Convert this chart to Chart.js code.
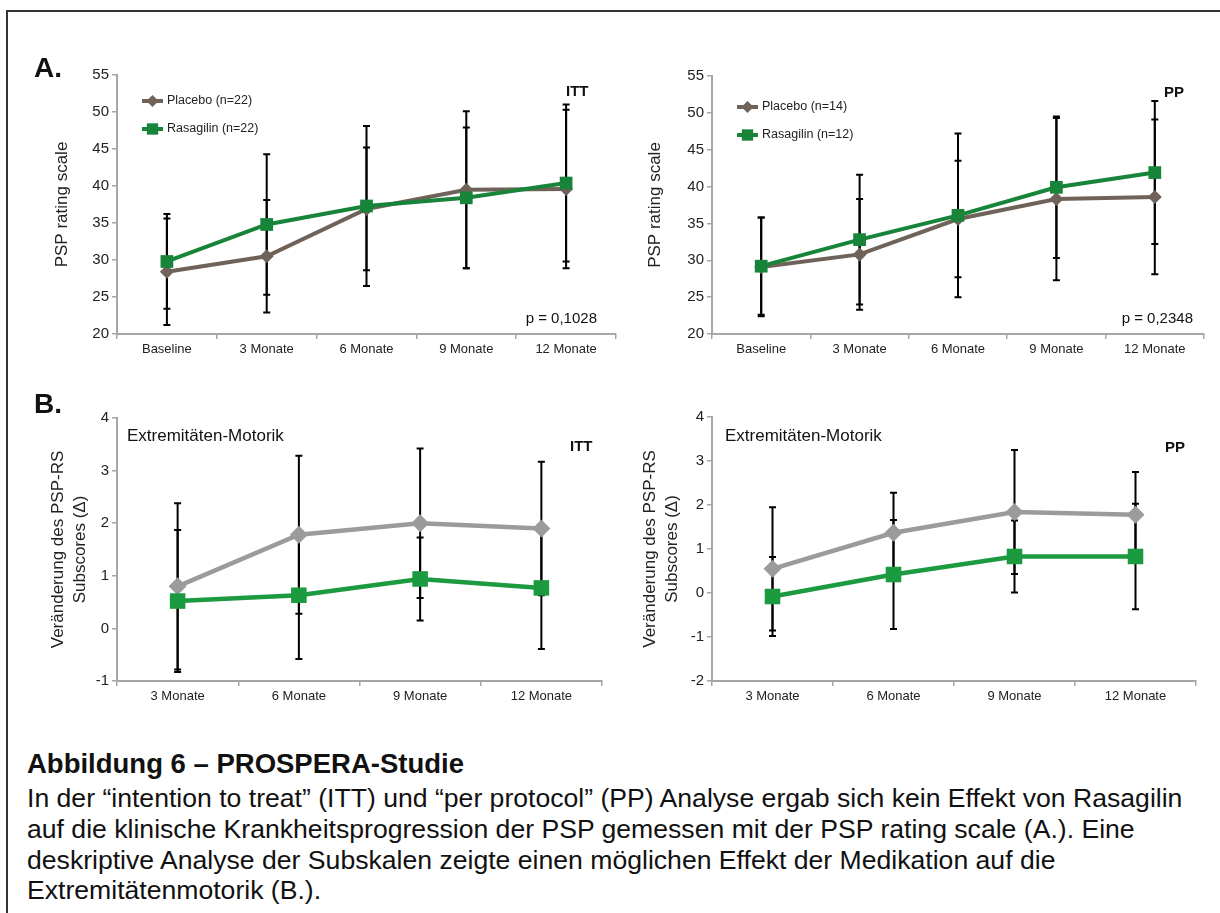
<!DOCTYPE html>
<html>
<head>
<meta charset="utf-8">
<script src="https://cdn.jsdelivr.net/npm/chart.js@4.4.1/dist/chart.umd.min.js"></script>
<style>
    body { margin: 0; background: #fff; font-family: 'Liberation Sans', Arial, sans-serif; color: #111; }
    #page { position: relative; width: 1220px; height: 913px; overflow: hidden; }
    #frame { position: absolute; left: 6px; top: 10px; width: 1300px; height: 1000px; border-left: 2px solid #333; border-top: 2px solid #333; }
    .abs { position: absolute; white-space: nowrap; }
    .panel { position: absolute; font-size: 28px; line-height: 28px; font-weight: bold; }
    .tag { position: absolute; font-size: 15px; font-weight: bold; }
    .note { position: absolute; font-size: 15px; }
    .sub { position: absolute; font-size: 17px; }
    .cap { position: absolute; left: 27px; white-space: nowrap; font-size: 26.6px; line-height: 26.6px; }
    .cap.title { font-size: 27.5px; line-height: 27.5px; font-weight: bold; }
</style>
</head>
<body>
<div id="page">
    <div id="frame"></div>

    <div class="abs" style="left:40px;top:60px"><canvas id="chartIttTotal" width="590" height="310"></canvas></div>
    <div class="abs" style="left:635px;top:60px"><canvas id="chartPpTotal" width="590" height="310"></canvas></div>
    <div class="abs" style="left:40px;top:400px"><canvas id="chartIttSub" width="580" height="317"></canvas></div>
    <div class="abs" style="left:635px;top:400px"><canvas id="chartPpSub" width="580" height="317"></canvas></div>

    <div class="panel" style="left:34px;top:54px">A.</div>
    <div class="panel" style="left:34px;top:390px">B.</div>

    <div class="tag" style="left:566px;top:82px">ITT</div>
    <div class="tag" style="left:1164px;top:83px">PP</div>
    <div class="tag" style="left:570px;top:437px">ITT</div>
    <div class="tag" style="left:1165px;top:438px">PP</div>

    <div class="note" style="right:623px;top:309px">p = 0,1028</div>
    <div class="note" style="right:27px;top:309px">p = 0,2348</div>
    <div class="sub" style="left:127px;top:426px">Extremitäten-Motorik</div>
    <div class="sub" style="left:725px;top:426px">Extremitäten-Motorik</div>

    <div class="cap title" style="top:750px">Abbildung 6 – PROSPERA-Studie</div>
    <div class="cap" style="top:785px">In der “intention to treat” (ITT) und “per protocol” (PP) Analyse ergab sich kein Effekt von Rasagilin</div>
    <div class="cap" style="top:816px">auf die klinische Krankheitsprogression der PSP gemessen mit der PSP rating scale (A.). Eine</div>
    <div class="cap" style="top:847px">deskriptive Analyse der Subskalen zeigte einen möglichen Effekt der Medikation auf die</div>
    <div class="cap" style="top:877px">Extremitätenmotorik (B.).</div>
</div>

<script>
// --- data ---
const totalLabels = ['Baseline', '3 Monate', '6 Monate', '9 Monate', '12 Monate'];
const subLabels = ['3 Monate', '6 Monate', '9 Monate', '12 Monate'];

// A. PSP rating scale, ITT
const ittPlacebo = [28.4, 30.5, 36.9, 39.5, 39.6];
const ittPlaceboSd = [7.2, 7.6, 8.3, 10.6, 10.7];
const ittRasagilin = [29.8, 34.8, 37.3, 38.4, 40.4];
const ittRasagilinSd = [6.4, 9.5, 10.8, 9.5, 10.6];

// A. PSP rating scale, PP
const ppPlacebo = [29.1, 30.8, 35.6, 38.3, 38.6];
const ppPlaceboSd = [6.7, 7.5, 7.9, 11.0, 10.5];
const ppRasagilin = [29.2, 32.8, 36.1, 39.9, 41.9];
const ppRasagilinSd = [6.6, 8.8, 11.1, 9.6, 9.7];

// B. Extremitaeten-Motorik, ITT
const ittSubPlacebo = [0.8, 1.78, 2.0, 1.9];
const ittSubPlaceboSd = [1.58, 1.5, 1.42, 1.27];
const ittSubRasagilin = [0.52, 0.63, 0.94, 0.77];
const ittSubRasagilinSd = [1.35, 1.21, 0.79, 1.16];

// B. Extremitaeten-Motorik, PP
const ppSubPlacebo = [0.55, 1.37, 1.84, 1.78];
const ppSubPlaceboSd = [1.4, 0.91, 1.41, 0.97];
const ppSubRasagilin = [-0.08, 0.42, 0.83, 0.83];
const ppSubRasagilinSd = [0.9, 1.24, 0.82, 1.2];

const FONT = "'Liberation Sans', Arial, sans-serif";
const AXIS_GREY = '#a6a6a6';

// black error bars, drawn under the lines and markers
const errorBars = {
    id: 'errorBars',
    beforeDatasetsDraw(chart, args, opts) {
        const { ctx, scales: { x, y } } = chart;
        ctx.save();
        ctx.strokeStyle = '#000';
        ctx.lineWidth = 2;
        chart.data.datasets.forEach((ds, i) => {
            const sd = opts.sd[i] || [];
            ds.data.forEach((v, j) => {
                const px = x.getPixelForValue(j);
                const hi = y.getPixelForValue(v + sd[j]);
                const lo = y.getPixelForValue(v - sd[j]);
                ctx.beginPath();
                ctx.moveTo(px, hi); ctx.lineTo(px, lo);
                ctx.moveTo(px - 3.5, hi); ctx.lineTo(px + 3.5, hi);
                ctx.moveTo(px - 3.5, lo); ctx.lineTo(px + 3.5, lo);
                ctx.stroke();
            });
        });
        ctx.restore();
    }
};

// small legend inside the plot area, like the Excel original
const innerLegend = {
    id: 'innerLegend',
    afterDraw(chart, args, opts) {
        if (!opts.show) return;
        const { ctx, chartArea } = chart;
        ctx.save();
        ctx.font = '12.5px ' + FONT;
        ctx.textBaseline = 'middle';
        opts.rows.forEach((row, k) => {
            const ds = chart.data.datasets[row];
            const y = chartArea.top + opts.top + k * opts.gap;
            const x0 = chartArea.left + opts.left;
            ctx.strokeStyle = ds.borderColor;
            ctx.fillStyle = ds.borderColor;
            ctx.lineWidth = ds.borderWidth;
            ctx.beginPath();
            ctx.moveTo(x0, y); ctx.lineTo(x0 + 21, y);
            ctx.stroke();
            Chart.helpers.drawPoint(ctx, { pointStyle: ds.pointStyle, radius: ds.pointRadius - 1, rotation: 0, borderWidth: 0 }, x0 + 10.5, y);
            ctx.fillStyle = '#222';
            ctx.fillText(ds.label, x0 + 25, y);
        });
        ctx.restore();
    }
};

function renderChart(id, cfg) {
    const el = document.getElementById(id);
    return new Chart(el, {
        type: 'line',
        data: {
            labels: cfg.labels,
            datasets: [{
                label: cfg.placeboLabel,
                data: cfg.placebo,
                borderColor: cfg.placeboColor,
                backgroundColor: cfg.placeboColor,
                borderWidth: cfg.lineWidth,
                pointStyle: 'rectRot',
                pointRadius: cfg.diamond,
                pointBorderWidth: 0,
                order: 1,
            }, {
                label: cfg.rasaLabel,
                data: cfg.rasagilin,
                borderColor: cfg.rasaColor,
                backgroundColor: cfg.rasaColor,
                borderWidth: cfg.lineWidth,
                pointStyle: 'rect',
                pointRadius: cfg.square,
                pointBorderWidth: 0,
                order: 0,
            }]
        },
        plugins: [errorBars, innerLegend],
        options: {
            responsive: false,
            animation: false,
            layout: { padding: { top: cfg.padTop, right: cfg.padRight, left: 0, bottom: 0 } },
            plugins: {
                legend: { display: false },
                tooltip: { enabled: false },
                errorBars: { sd: [cfg.placeboSd, cfg.rasaSd] },
                innerLegend: { show: cfg.legend, rows: [0, 1], left: 25, top: cfg.legendTop, gap: 28 },
            },
            scales: {
                x: {
                    offset: true,
                    afterFit(scale) { scale.height = 36; },
                    grid: { offset: true, drawOnChartArea: false, color: AXIS_GREY, lineWidth: 1.5, tickLength: 5 },
                    border: { color: AXIS_GREY, width: 2 },
                    ticks: { color: '#222', font: { family: FONT, size: 13 }, padding: 3, maxRotation: 0 },
                },
                y: {
                    min: cfg.yMin,
                    max: cfg.yMax,
                    afterFit(scale) { scale.width = 77; },
                    grid: { drawOnChartArea: false, color: AXIS_GREY, lineWidth: 1.5, tickLength: 5 },
                    border: { color: AXIS_GREY, width: 2 },
                    ticks: { stepSize: cfg.yStep, color: '#222', font: { family: FONT, size: 15 }, padding: 3 },
                    title: {
                        display: true,
                        text: cfg.yTitle,
                        color: '#222',
                        font: { family: FONT, size: 17, lineHeight: 1.3 },
                        padding: { top: cfg.titlePad, bottom: 0 },
                    },
                },
            },
        },
    });
}

const topStyle = { placeboColor: '#6f6259', rasaColor: '#17843a', lineWidth: 4, diamond: 7, square: 9, legend: true,
    yMin: 20, yMax: 55, yStep: 5, yTitle: 'PSP rating scale', labels: totalLabels };
const subStyle = { placeboColor: '#9b9b9d', rasaColor: '#1c9a40', lineWidth: 4.5, diamond: 9, square: 11, legend: false,
    yStep: 1, yTitle: ['Veränderung des PSP-RS', 'Subscores (Δ)'], labels: subLabels };

renderChart('chartIttTotal', Object.assign({}, topStyle, {
    placebo: ittPlacebo, placeboSd: ittPlaceboSd, rasagilin: ittRasagilin, rasaSd: ittRasagilinSd,
    placeboLabel: 'Placebo (n=22)', rasaLabel: 'Rasagilin (n=22)', padTop: 15, padRight: 14, titlePad: 11, legendTop: 26,
}));

renderChart('chartPpTotal', Object.assign({}, topStyle, {
    placebo: ppPlacebo, placeboSd: ppPlaceboSd, rasagilin: ppRasagilin, rasaSd: ppRasagilinSd,
    placeboLabel: 'Placebo (n=14)', rasaLabel: 'Rasagilin (n=12)', padTop: 16, padRight: 21, titlePad: 9, legendTop: 31,
}));

renderChart('chartIttSub', Object.assign({}, subStyle, {
    placebo: ittSubPlacebo, placeboSd: ittSubPlaceboSd, rasagilin: ittSubRasagilin, rasaSd: ittSubRasagilinSd,
    placeboLabel: 'Placebo', rasaLabel: 'Rasagilin', yMin: -1, yMax: 4, padTop: 18, padRight: 18, titlePad: 7,
}));

renderChart('chartPpSub', Object.assign({}, subStyle, {
    placebo: ppSubPlacebo, placeboSd: ppSubPlaceboSd, rasagilin: ppSubRasagilin, rasaSd: ppSubRasagilinSd,
    placeboLabel: 'Placebo', rasaLabel: 'Rasagilin', yMin: -2, yMax: 4, padTop: 17, padRight: 19, titlePad: 4,
}));
</script>
</body>
</html>
